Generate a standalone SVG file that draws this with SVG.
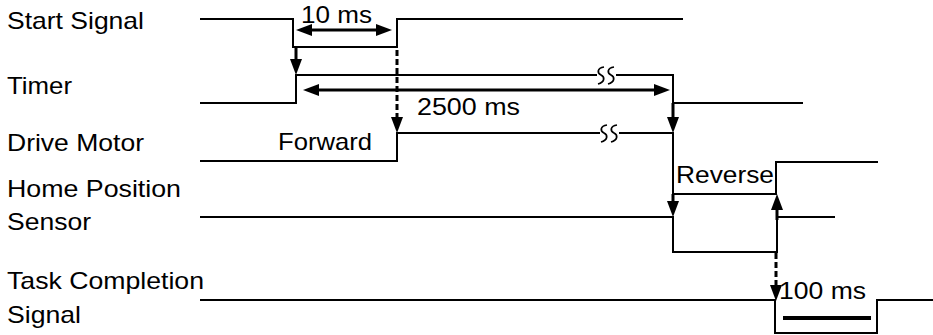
<svg xmlns="http://www.w3.org/2000/svg" width="933" height="335" viewBox="0 0 933 335">
<style>
text{font-family:"Liberation Sans",Arial,sans-serif;font-size:24px;fill:#000}
.sig{fill:none;stroke:#000;stroke-width:2}
.brk{fill:none;stroke:#000;stroke-width:1.7}
.arr{fill:none;stroke:#000;stroke-width:3}
.dash{stroke-dasharray:6 3}
</style>
<defs>
<marker id="ah" viewBox="0 0 16 12" refX="8" refY="6" markerWidth="16" markerHeight="12" markerUnits="userSpaceOnUse" orient="auto-start-reverse">
<path d="M0,0 L16,6 L0,12 z" fill="#000"/>
</marker>
</defs>
<rect width="933" height="335" fill="#fff"/>
<g id="start-signal">
<text x="7" y="28.5" textLength="137" lengthAdjust="spacingAndGlyphs">Start Signal</text>
<path class="sig" d="M200,19 H293 V47 H397 V19 H683"/>
</g>
<g id="timer">
<text x="7" y="94" textLength="65" lengthAdjust="spacingAndGlyphs">Timer</text>
<path class="sig" d="M200,75 M200,103 H296 V75 H597 M616,75 H673 V103 H803"/>
<path class="brk" d="M604,67 C597,68 597,73 601,75 C605,77 605,82 598,84 M614,67 C607,68 607,73 611,75 C615,77 615,82 608,84"/>
</g>
<g id="drive-motor">
<text x="7" y="151" textLength="137" lengthAdjust="spacingAndGlyphs">Drive Motor</text>
<path class="sig" d="M200,161 H397 V133 H600 M619,133 H673 V194 H776 V162 H878"/>
<path class="brk" d="M607,125 C600,126 600,131 604,133 C608,135 608,140 601,142 M617,125 C610,126 610,131 614,133 C618,135 618,140 611,142"/>
<text x="278" y="150" textLength="94" lengthAdjust="spacingAndGlyphs">Forward</text>
<text x="676" y="183" textLength="98" lengthAdjust="spacingAndGlyphs">Reverse</text>
</g>
<g id="home-position-sensor">
<text x="7" y="197" textLength="174" lengthAdjust="spacingAndGlyphs">Home Position</text>
<text x="7" y="230" textLength="84" lengthAdjust="spacingAndGlyphs">Sensor</text>
<path class="sig" d="M200,217 H673 V252 H777 V217 H835"/>
</g>
<g id="task-completion-signal">
<text x="7" y="288.5" textLength="197" lengthAdjust="spacingAndGlyphs">Task Completion</text>
<text x="7" y="323" textLength="74" lengthAdjust="spacingAndGlyphs">Signal</text>
<path class="sig" d="M200,300 H775 V333 H877 V300 H933"/>
</g>
<g id="connectors">
<path class="arr" d="M296,47 V67" marker-end="url(#ah)"/>
<path class="arr" d="M304,30 H384" marker-start="url(#ah)" marker-end="url(#ah)"/>
<text x="301" y="23" textLength="71" lengthAdjust="spacingAndGlyphs">10 ms</text>
<path class="arr" d="M311,90 H662" marker-start="url(#ah)" marker-end="url(#ah)"/>
<text x="417" y="115" textLength="103" lengthAdjust="spacingAndGlyphs">2500 ms</text>
<path class="arr dash" d="M397,50 V125" marker-end="url(#ah)"/>
<path class="arr" d="M673,103 V125" marker-end="url(#ah)"/>
<path class="arr" d="M673,194 V209" marker-end="url(#ah)"/>
<path class="arr" d="M777,220 V202" marker-end="url(#ah)"/>
<path class="arr dash" d="M776,253 V293" marker-end="url(#ah)"/>
<path class="arr" d="M783,318 H871" style="stroke-width:4"/>
<text x="779" y="299" textLength="87" lengthAdjust="spacingAndGlyphs">100 ms</text>
</g>
</svg>
